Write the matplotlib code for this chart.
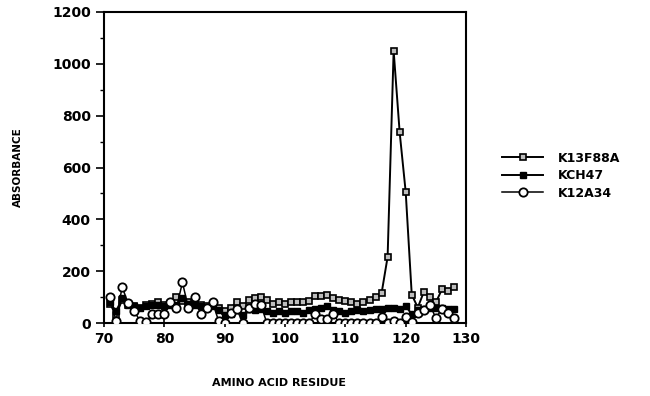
import matplotlib
matplotlib.use("Agg")
import matplotlib.pyplot as plt
from matplotlib.ticker import MultipleLocator

residues = list(range(71, 129))

k13f88a = [75, 30, 90, 70, 65, 60, 70, 75, 80, 70,
           75, 100, 85, 80, 75, 70, 65, 70, 60, 45,
           60, 80, 65, 90, 95, 100, 90, 75, 80, 75,
           80, 80, 80, 85, 105, 105, 110, 95, 90, 85,
           80, 75, 80, 90, 100, 115, 255, 1050, 735, 505,
           110, 60, 120, 100, 80, 130, 125, 140]

kch47 = [80, 45, 95, 70, 65, 60, 65, 70, 70, 65,
         70, 70, 95, 75, 70, 65, 60, 65, 50, 30,
         35, 50, 30, 55, 50, 55, 45, 40, 45, 40,
         45, 45, 40, 50, 55, 60, 65, 50, 45, 40,
         45, 50, 45, 50, 55, 55, 60, 60, 55, 65,
         35, 50, 55, 60, 60, 60, 55, 55]

k12a34 = [99, 8, 140, 76, 46, 8, 3, 37, 37, 37,
          80, 59, 157, 57, 99, 37, 57, 80, 8, 0,
          40, 55, 0, 60, 75, 70, 0, 0, 0, 0,
          0, 0, 0, 0, 35, 15, 15, 35, 0, 0,
          0, 0, 0, 0, 0, 25, 0, 10, 0, 25,
          5, 40, 50, 70, 20, 55, 40, 20]

series_names = ["K13F88A", "KCH47", "K12A34"]

fig = plt.figure(figsize=(6.5, 3.96), dpi=100)
ax = fig.add_axes([0.16, 0.184, 0.557, 0.786])

ax.plot(residues, k13f88a, color="black", lw=1.4, marker="s", ms=4.5,
        mfc="#bdbdbd", mec="black", mew=1.2, label=series_names[0], zorder=2)
ax.plot(residues, kch47, color="black", lw=1.4, marker="s", ms=4.2,
        mfc="black", mec="black", label=series_names[1], zorder=3)
ax.plot(residues, k12a34, color="black", lw=1.1, marker="o", ms=6,
        mfc="white", mec="black", mew=1.3, label=series_names[2], zorder=4)

ax.set_xlim(70, 130)
ax.set_ylim(0, 1200)
ax.xaxis.set_major_locator(MultipleLocator(10))
ax.yaxis.set_major_locator(MultipleLocator(200))
ax.yaxis.set_minor_locator(MultipleLocator(100))
ax.tick_params(axis="y", which="major", direction="out", length=6, width=1.2)
ax.tick_params(axis="y", which="minor", direction="out", length=3, width=1)
ax.tick_params(axis="x", which="major", direction="inout", length=6, width=1.2)
for s in ax.spines.values():
    s.set_linewidth(1.5)

for lab in ax.get_xticklabels() + ax.get_yticklabels():
    lab.set_fontweight("bold")
    lab.set_fontsize(10)

fig.text(0.028, 0.577, "ABSORBANCE", rotation=90, ha="center", va="center",
         fontsize=7.5, fontweight="bold")
fig.text(0.43, 0.033, "AMINO ACID RESIDUE", ha="center", va="center",
         fontsize=8, fontweight="bold")

leg = fig.legend(loc="upper left", bbox_to_anchor=(0.755, 0.645), frameon=False,
                 handlelength=3.3, labelspacing=0.35, handletextpad=1.2,
                 prop={"weight": "bold", "size": 9})

fig.savefig("out.png", dpi=100)
